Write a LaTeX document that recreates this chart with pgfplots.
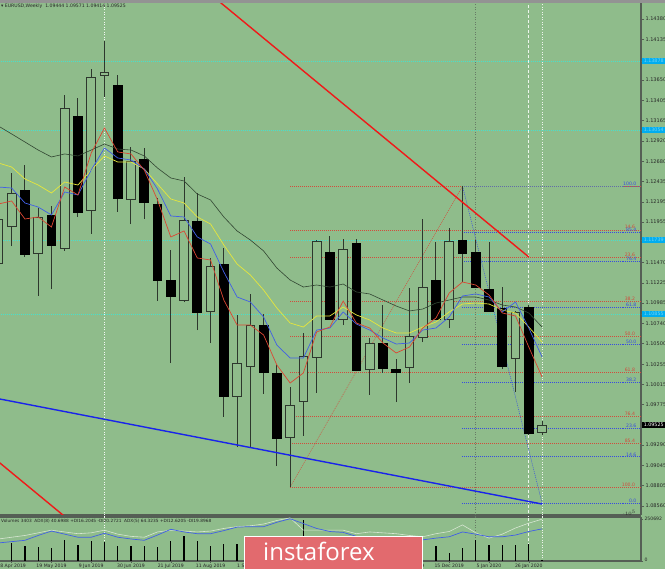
\documentclass[border=0pt]{standalone}
\usepackage{fontspec}
\setmainfont{DejaVu Sans}
\newfontfamily\logofont{Open Sans}
\usepackage{pgfplots}
\pgfplotsset{compat=1.18}
\usepackage{pgfplotstable}

\definecolor{bg}{RGB}{143,188,139}
\definecolor{frame}{RGB}{85,95,85}
\definecolor{wick}{RGB}{45,55,45}
\definecolor{maK}{RGB}{50,70,50}
\definecolor{maY}{RGB}{230,230,60}
\definecolor{maB}{RGB}{65,95,230}
\definecolor{maR}{RGB}{220,70,50}
\definecolor{fibR}{RGB}{210,75,60}
\definecolor{fibB}{RGB}{55,75,225}
\definecolor{trR}{RGB}{240,25,25}
\definecolor{trB}{RGB}{25,35,235}
\definecolor{cyanl}{RGB}{70,225,205}
\definecolor{logo}{RGB}{226,106,110}
\definecolor{adxW}{RGB}{215,230,210}
\definecolor{adxB}{RGB}{65,95,230}

% weekly EURUSD candles, index 1 = 21 Apr 2019 ... 42 = 2 Feb 2020
% rising weeks
\pgfplotstableread{
i O H L C
1 1.11464 1.12157 1.11380 1.11990
2 1.11906 1.12540 1.11667 1.12301
4 1.11584 1.12121 1.11070 1.12014
6 1.11643 1.13472 1.11608 1.13316
8 1.12097 1.13782 1.11811 1.13687
9 1.13711 1.14117 1.13448 1.13735
11 1.12229 1.12850 1.11930 1.12683
15 1.11022 1.12492 1.10998 1.11978
17 1.10891 1.11524 1.10508 1.11428
19 1.09875 1.10843 1.09265 1.10269
20 1.10233 1.11094 1.09265 1.10723
23 1.09385 1.09982 1.08787 1.09767
24 1.09815 1.10628 1.09397 1.10353
25 1.10341 1.11739 1.09911 1.11727
27 1.10795 1.11751 1.10723 1.11631
29 1.10197 1.10568 1.09887 1.10508
32 1.10221 1.11165 1.10030 1.10592
33 1.10580 1.11990 1.10520 1.11177
35 1.10795 1.11882 1.10687 1.11727
40 1.10329 1.10891 1.09923 1.10879
42 1.09444 1.09571 1.09414 1.09525
}\bulls
% falling weeks
\pgfplotstableread{
i O H L C
3 1.12325 1.12635 1.11536 1.11572
5 1.12038 1.12145 1.11153 1.11679
7 1.13221 1.13436 1.12014 1.12074
10 1.13591 1.13711 1.12074 1.12241
12 1.12707 1.12838 1.11990 1.12193
13 1.12169 1.12241 1.11010 1.11261
14 1.11261 1.11619 1.10269 1.11070
16 1.11966 1.12301 1.10663 1.10879
18 1.11452 1.11643 1.09624 1.09875
21 1.10723 1.10855 1.09899 1.10162
22 1.10150 1.10245 1.09038 1.09373
26 1.11596 1.11787 1.10783 1.10795
28 1.11703 1.11751 1.10173 1.10185
30 1.10508 1.10962 1.10150 1.10209
31 1.10197 1.10317 1.09803 1.10162
34 1.11261 1.11715 1.10783 1.10795
36 1.11739 1.12384 1.11237 1.11584
37 1.11596 1.11739 1.11165 1.11177
38 1.11153 1.11715 1.10879 1.10891
39 1.10926 1.11177 1.10197 1.10233
41 1.10938 1.10962 1.09409 1.09433
}\bears

% moving averages: K dark, Y yellow, B blue, R red
\pgfplotstableread{
i K Y B R
1 1.13101 1.12659 1.12372 1.12169
2 1.13006 1.12611 1.12360 1.12205
3 1.12910 1.12468 1.12181 1.11990
4 1.12814 1.12396 1.12133 1.12014
5 1.12731 1.12301 1.12038 1.11894
6 1.12767 1.12432 1.12313 1.12372
7 1.12743 1.12396 1.12277 1.12277
8 1.12814 1.12575 1.12575 1.12779
9 1.12886 1.12743 1.12838 1.13077
10 1.12826 1.12671 1.12719 1.12791
11 1.12814 1.12671 1.12695 1.12767
12 1.12743 1.12587 1.12587 1.12575
13 1.12599 1.12408 1.12348 1.12217
14 1.12480 1.12229 1.12026 1.11775
15 1.12444 1.12181 1.12014 1.11847
16 1.12289 1.12014 1.11775 1.11524
17 1.12217 1.11930 1.11691 1.11500
18 1.12014 1.11679 1.11357 1.11022
19 1.11847 1.11452 1.11058 1.10723
20 1.11739 1.11321 1.10998 1.10723
21 1.11608 1.11141 1.10819 1.10604
22 1.11404 1.10926 1.10484 1.10245
23 1.11261 1.10747 1.10329 1.10030
24 1.11177 1.10699 1.10329 1.10150
25 1.11201 1.10831 1.10663 1.10640
26 1.11177 1.10831 1.10687 1.10699
27 1.11213 1.10938 1.10879 1.11010
28 1.11118 1.10843 1.10735 1.10747
29 1.11094 1.10783 1.10663 1.10687
30 1.11022 1.10687 1.10568 1.10508
31 1.10950 1.10628 1.10496 1.10389
32 1.10891 1.10628 1.10508 1.10460
33 1.10914 1.10699 1.10663 1.10687
34 1.10986 1.10759 1.10687 1.10807
35 1.11022 1.10879 1.10819 1.11106
36 1.11058 1.10974 1.11070 1.11237
37 1.11058 1.10986 1.11094 1.11201
38 1.11022 1.10974 1.11058 1.11082
39 1.10962 1.10902 1.10879 1.10867
40 1.10938 1.10867 1.10998 1.10831
41 1.10867 1.10699 1.10687 1.10460
42 1.10699 1.10520 1.10341 1.10102
}\mas

% tick volumes and the two ADX lines (0-100 of the panel height)
\pgfplotstableread{
i V W A
1 100000 50 41
2 110000 54 44
3 87000 58 47
4 81000 64 58
5 77000 70 68
6 125000 66 61
7 96000 62 54
8 121000 64 54
9 112000 70 63
10 87000 61 54
11 87000 56 50
12 87000 54 47
13 81000 66 59
14 120000 70 72
15 148000 68 66
16 120000 66 62
17 91000 68 62
18 100000 74 69
19 100000 78 77
20 95000 80 78
21 110000 84 78
22 100000 92 88
23 141000 98 96
24 247000 70 85
25 120000 70 74
26 100000 70 67
27 95000 70 65
28 105000 62 56
29 90000 66 52
30 95000 64 50
31 85000 62 49
32 90000 58 48
33 100000 55 48
34 90000 62 52
35 50000 67 55
36 80000 82 66
37 125000 64 61
38 95000 52 55
39 95000 61 55
40 97000 75 59
41 100000 86 67
42 3403 95 73
}\vols

% one body per row of a candle table: #1 table, #2 fill, #3 outline
\newcommand\bodies[3]{%
  \pgfplotstablegetrowsof{#1}\pgfmathtruncatemacro\nrows{\pgfplotsretval-1}%
  \foreach \r in {0,...,\nrows}{%
    \pgfplotstablegetelem{\r}{i}\of#1\pgfmathsetmacro\xl{\pgfplotsretval-0.33}\pgfmathsetmacro\xr{\pgfplotsretval+0.33}%
    \pgfplotstablegetelem{\r}{O}\of#1\let\vo\pgfplotsretval
    \pgfplotstablegetelem{\r}{C}\of#1\let\vc\pgfplotsretval
    \edef\tmp{\noexpand\addplot[fill=#2, draw=#3, line width=0.9pt] coordinates {(\xl,\vo) (\xr,\vo) (\xr,\vc) (\xl,\vc)} --cycle;}\tmp
  }}

\begin{document}
\begin{tikzpicture}[x=1pt,y=1pt]
\path[use as bounding box, fill=bg] (0,0) rectangle (665,569);

% ---------------- price panel ----------------
\begin{axis}[
  at={(0pt,54pt)}, anchor=south west, scale only axis,
  width=641pt, height=512pt,
  xmin=1.1207, xmax=49.462, ymin=1.08453, ymax=1.14571,
  axis x line*=bottom, axis y line*=right,
  axis line style={frame, line width=1.2pt},
  xtick=\empty,
  ytick={1.14380,1.14135,1.13650,1.13405,1.13165,1.12920,1.12680,1.12435,1.12195,1.11955,1.11470,1.11225,1.10985,1.10740,1.10500,1.10255,1.10015,1.09775,1.09290,1.09045,1.08805,1.08560},
  yticklabels={1.14380,1.14135,1.13650,1.13405,1.13165,1.12920,1.12680,1.12435,1.12195,1.11955,1.11470,1.11225,1.10985,1.10740,1.10500,1.10255,1.10015,1.09775,1.09290,1.09045,1.08805,1.08560},
  tick align=outside, major tick length=3pt,
  tick style={frame, line width=0.5pt},
  yticklabel style={font=\fontsize{5}{6}\selectfont, text=black!85, xshift=-2pt},
]
% cyan horizontal levels
\addplot[cyanl, line width=0.5pt, dash pattern=on 1pt off 1pt] coordinates {(0,1.13878) (50,1.13878)};
\addplot[cyanl, line width=0.5pt, dash pattern=on 1pt off 1pt] coordinates {(0,1.13054) (50,1.13054)};
\addplot[cyanl, line width=0.5pt, dash pattern=on 1pt off 1pt] coordinates {(0,1.11739) (50,1.11739)};
\addplot[cyanl, line width=0.5pt, dash pattern=on 1pt off 1pt] coordinates {(0,1.10855) (50,1.10855)};
% vertical separators
\addplot[white!90!bg, line width=0.6pt, dash pattern=on 1pt off 1.5pt] coordinates {(9,1.08) (9,1.15)};
\addplot[frame!70!bg, line width=0.6pt, dash pattern=on 1pt off 1.5pt] coordinates {(37,1.08) (37,1.15)};
\addplot[white!85!bg, line width=0.6pt, dash pattern=on 3pt off 2pt] coordinates {(41,1.08) (41,1.15)};
\addplot[white!85!bg, line width=0.6pt, dash pattern=on 1pt off 1.5pt] coordinates {(42,1.08) (42,1.15)};
% red Fibonacci levels (low 1.08787 -> high 1.12384)
\foreach \lv in {1.12384,1.11859,1.11535,1.11010,1.10586,1.10161,1.09636,1.09312,1.08787}{
  \edef\tmp{\noexpand\addplot[fibR, line width=0.6pt, dash pattern=on 1pt off 1pt] coordinates {(23,\lv) (50,\lv)};}\tmp}
% blue Fibonacci levels (high 1.12384 -> 1.08596)
\addplot[gray!60!fibB, line width=0.6pt, dash pattern=on 1pt off 1pt] coordinates {(36,1.12384) (50,1.12384)};
\foreach \lv in {1.11831,1.11490,1.10937,1.10490,1.10043,1.09490,1.09149,1.08596}{
  \edef\tmp{\noexpand\addplot[fibB, line width=0.6pt, dash pattern=on 1pt off 1pt] coordinates {(36,\lv) (50,\lv)};}\tmp}
% fib diagonals
\addplot[fibR, line width=0.5pt, dash pattern=on 1pt off 1pt] coordinates {(23,1.08787) (36,1.12384)};
\addplot[fibB, line width=0.5pt, dash pattern=on 1pt off 1pt] coordinates {(36,1.12384) (42,1.08596)};
% wicks
\addplot[draw=none, mark=none, error bars/.cd, y dir=plus, y explicit, error mark=none,
  error bar style={draw=wick, line width=1pt, solid}]
  table[x=i, y=L, y error expr=\thisrow{H}-\thisrow{L}] \bulls;
\addplot[draw=none, mark=none, error bars/.cd, y dir=plus, y explicit, error mark=none,
  error bar style={draw=wick, line width=1pt, solid}]
  table[x=i, y=L, y error expr=\thisrow{H}-\thisrow{L}] \bears;
% candle bodies
\bodies{\bears}{black}{black}
\bodies{\bulls}{bg}{wick}
% moving averages
\addplot[maK, line width=0.6pt] table[x=i, y=K] \mas;
\addplot[maY, line width=0.7pt] table[x=i, y=Y] \mas;
\addplot[maB, line width=0.7pt] table[x=i, y=B] \mas;
\addplot[maR, line width=0.7pt] table[x=i, y=R] \mas;
% trend lines
\addplot[trR, line width=1.4pt] coordinates {(17.0,1.14674) (41.0,1.11536)};
\addplot[trR, line width=1.4pt] coordinates {(0,1.09220) (6.2,1.08409)};
\addplot[trB, line width=1.4pt] coordinates {(0,1.09873) (42,1.08584)};
% fib labels
\begin{scope}[every node/.style={font=\fontsize{4.6}{5}\selectfont, inner sep=0.3pt, anchor=south east}]
\node[text=fibR] at (axis cs:49.05,1.11872) {14.6};
\node[text=fibR] at (axis cs:49.05,1.11535) {23.6};
\node[text=fibR] at (axis cs:49.05,1.11010) {38.2};
\node[text=fibR] at (axis cs:49.05,1.10586) {50.0};
\node[text=fibR] at (axis cs:49.05,1.10161) {61.8};
\node[text=fibR] at (axis cs:49.05,1.09636) {76.4};
\node[text=fibR] at (axis cs:49.05,1.09312) {85.4};
\node[text=fibR] at (axis cs:49.05,1.08787) {100.0};
\node[text=fibB] at (axis cs:49.15,1.12384) {100.0};
\node[text=fibB] at (axis cs:49.15,1.11831) {85.4};
\node[text=fibB] at (axis cs:49.15,1.11490) {76.4};
\node[text=fibB] at (axis cs:49.15,1.10937) {61.8};
\node[text=fibB] at (axis cs:49.15,1.10490) {50.0};
\node[text=fibB] at (axis cs:49.15,1.10043) {38.2};
\node[text=fibB] at (axis cs:49.15,1.09490) {23.6};
\node[text=fibB] at (axis cs:49.15,1.09149) {14.6};
\node[text=fibB] at (axis cs:49.15,1.08596) {0.0};
\end{scope}
\end{axis}

% ---------------- volume panel ----------------
\begin{axis}[
  at={(0pt,8pt)}, anchor=south west, scale only axis,
  width=641pt, height=44pt,
  xmin=1.1207, xmax=49.462, ymin=0, ymax=262600,
  axis x line*=box, axis y line*=right,
  axis line style={frame, line width=1.2pt},
  xtick={2,5,8,11,14,17,20,32,35,38,41},
  xticklabels={28 Apr 2019,19 May 2019,9 Jun 2019,30 Jun 2019,21 Jul 2019,11 Aug 2019,1 Sep 2019,24 Nov 2019,15 Dec 2019,5 Jan 2020,26 Jan 2020},
  xtick pos=left,
  ytick={0,250692}, yticklabels={\raisebox{3pt}{0},250692},
  tick align=outside, major tick length=2pt,
  tick style={frame, line width=0.5pt},
  xticklabel style={font=\fontsize{4.6}{5}\selectfont, text=black!85, yshift=2.5pt},
  yticklabel style={font=\fontsize{4.6}{5}\selectfont, text=black!85, xshift=-2pt},
]
\addplot[white!90!bg, line width=0.6pt, dash pattern=on 1pt off 1.5pt] coordinates {(9,0) (9,270000)};
\addplot[frame!70!bg, line width=0.6pt, dash pattern=on 1pt off 1.5pt] coordinates {(37,0) (37,270000)};
\addplot[white!85!bg, line width=0.6pt, dash pattern=on 3pt off 2pt] coordinates {(41,0) (41,270000)};
\addplot[white!85!bg, line width=0.6pt, dash pattern=on 1pt off 1.5pt] coordinates {(42,0) (42,270000)};
\addplot[ycomb, black, line width=1.3pt] table[x=i, y=V] \vols;
\end{axis}
\begin{axis}[
  at={(0pt,8pt)}, anchor=south west, scale only axis,
  width=641pt, height=44pt,
  xmin=1.1207, xmax=49.462, ymin=0, ymax=100, hide axis,
]
\addplot[adxW, line width=0.6pt] table[x=i, y=W] \vols;
\addplot[adxB, line width=0.7pt] table[x=i, y=A] \vols;
\end{axis}

% top strip and panel texts
\fill[gray!85] (0,566) rectangle (665,569);
\node[anchor=west, inner sep=0, font=\fontsize{4.6}{5}\selectfont, text=black!85] at (1,562.5)
  {▾ EURUSD,Weekly\ \ 1.09444 1.09571 1.09414 1.09525};
\node[anchor=west, inner sep=0, font=\fontsize{4.3}{5}\selectfont, text=black!85] at (1,47.5)
  {Volumes 3403\ \ ADX(8) 40.6988 +DI16.2045 -DI20.2721\ \ ADX(5) 64.3235 +DI12.6205 -DI19.8968};

% price axis markers
\begin{scope}[every node/.style={anchor=west, inner sep=0, minimum width=23pt, minimum height=6.5pt, font=\fontsize{4.8}{5}\selectfont}]
\node[fill=cyan, text=cyan!55!white] at (642,508) {1.13878};
\node[fill=cyan, text=cyan!55!white] at (642,439) {1.13054};
\node[fill=cyan, text=cyan!55!white] at (642,329) {1.11739};
\node[fill=cyan, text=cyan!55!white] at (642,255) {1.10855};
\node[fill=black, text=white] at (642,144) {1.09525};
\end{scope}

% logo
\filldraw[fill=logo, draw=white, line width=1pt] (244,32) rectangle (422,-3);
\node[text=white, font=\logofont\fontsize{24}{24}\selectfont, inner sep=0] at (319,18) {instaforex};
\end{tikzpicture}
\end{document}
